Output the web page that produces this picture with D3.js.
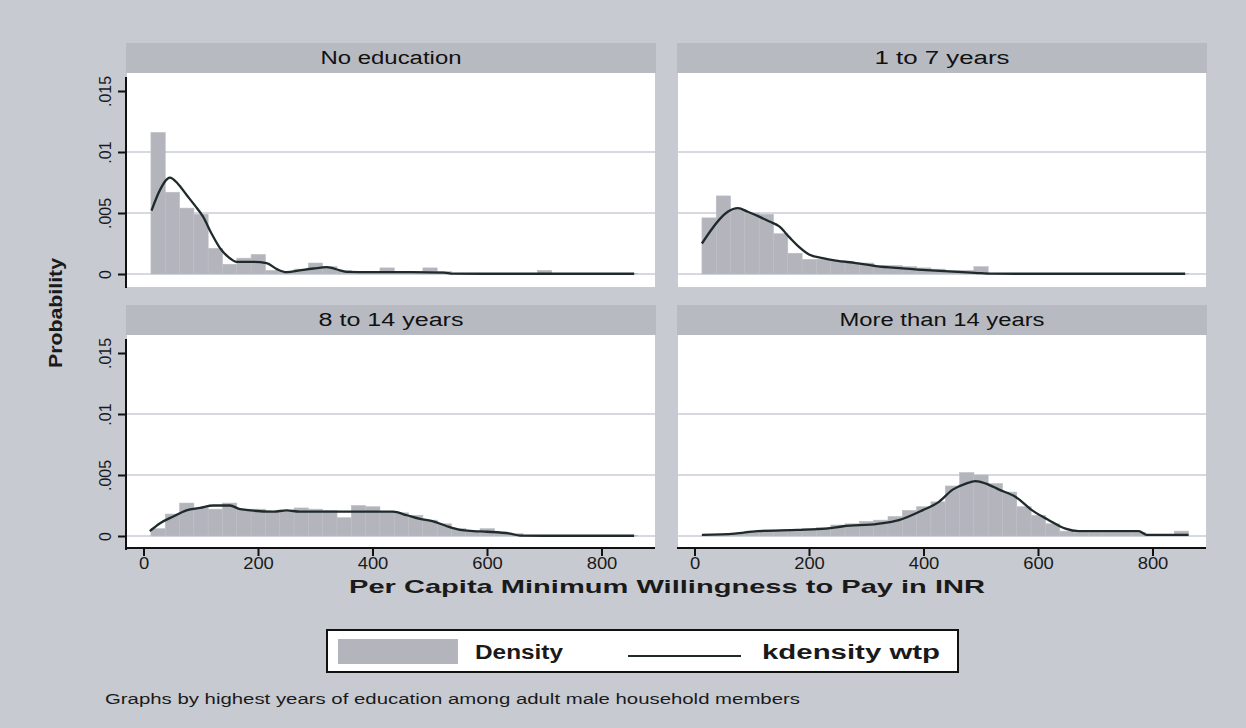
<!DOCTYPE html>
<html><head><meta charset="utf-8">
<script src="https://cdn.jsdelivr.net/npm/d3@7"></script>
<style>
body{margin:0;background:#c8cad2;}
svg{display:block;font-family:"Liberation Sans",Arial,sans-serif;}
</style>
</head><body>
<svg id="chart" width="1246" height="728"></svg>
<script>
// ---------------- data ----------------
const panelTitles = ["No education", "1 to 7 years", "8 to 14 years", "More than 14 years"];
const binStart = 13, binWidth = 25;

const densNoEdu = [.0116,.0067,.0054,.0049,.0021,.0008,.0013,.0016,.0003,.0002,
  .0004,.0009,.0006,.0003,.0002,.0002,.0005,.0002,.0002,.0005,
  .0002,.00005,.00005,.00005,.00005,.00005,.00005,.0003,.00005,.00005,
  .00005,.00005,.00005,.00005];
const dens1to7 = [.0046,.0064,.0053,.0050,.0049,.0033,.0017,.0012,.0012,.0011,
  .0009,.0009,.0007,.0007,.0006,.0005,.0004,.0003,.0003,.0006,
  .00005,.00005,.00005,.00005,.00005,.00005,.00005,.00005,.00005,.00005,
  .00005,.00005,.00005,.00005];
const dens8to14 = [.0006,.0018,.0027,.0023,.0022,.0027,.0022,.0022,.0020,.0020,
  .0023,.0022,.0021,.0015,.0025,.0024,.0020,.0019,.0017,.0013,
  .0010,.0006,.0004,.0006,.0003,.0002,.00005,.00005,.00005,.00005,
  .00005,.00005,.00005,.00005];
const densOver14 = [.0001,.0001,.0002,.0004,.0005,.0005,.0005,.0006,.0007,.0009,
  .0010,.0012,.0013,.0016,.0021,.0024,.0028,.0041,.0052,.0050,
  .0043,.0036,.0024,.0017,.0010,.0004,.0003,.0003,.0003,.0003,
  .0003,.0001,.0001,.0004];

const kdeXNoEdu = [14,30,46,60,75,90,104,119,134,148,163,192,215,233,250,273,297,320,343,355,400,450,525,540,600,700,857];
const kdeYNoEdu = [.0052,.0070,.0079,.0074,.0065,.0056,.0047,.0033,.0021,.0014,.0010,.0010,.0009,.0004,.00015,.0003,.00045,.00056,.0003,.00017,.00015,.00015,.00012,.00003,.00002,.00002,.00002];
const kdeX1to7 = [13,26,44,58,76,93,113,131,148,166,183,200,224,247,282,317,363,421,490,520,600,700,857];
const kdeY1to7 = [.0025,.0034,.0045,.0051,.0054,.0051,.0047,.0043,.0039,.0030,.0022,.0016,.0013,.0011,.0009,.00065,.00046,.00027,.0001,.00003,.00002,.00002,.00002];
const kdeX8to14 = [11,29,52,75,99,122,151,169,227,250,273,320,366,436,460,483,506,530,553,576,600,640,658,700,857];
const kdeY8to14 = [.0004,.00105,.0016,.0021,.0023,.0025,.0025,.0022,.0020,.0021,.0020,.0020,.0020,.0020,.0017,.0014,.0012,.0008,.0005,.0004,.00035,.0002,.00003,.00002,.00002];
const kdeXOver14 = [13,70,110,180,230,260,320,357,398,427,451,474,491,509,532,561,590,619,648,671,776,790,863];
const kdeYOver14 = [.0001,.0002,.0004,.0005,.0006,.0008,.0010,.0013,.0021,.0028,.0038,.0043,.0045,.0043,.0038,.0032,.0021,.0013,.0006,.0004,.0004,.0001,.0001];

const xTicks = [0, 200, 400, 600, 800];
const yTicks = [0, .005, .01, .015];
const yTickLabels = ["0", ".005", ".01", ".015"];
const gridValues = [0, .005, .01];

const xTitle = "Per Capita Minimum Willingness to Pay in INR";
const yTitle = "Probability";
const legendLabels = ["Density", "kdensity wtp"];
const footnote = "Graphs by highest years of education among adult male household members";

// ---------------- layout ----------------
const svg = d3.select("#chart");
const W = 1246, H = 728;
svg.append("rect").attr("width", W).attr("height", H).attr("fill", "#c8cad2");

const colLeft = [127, 678];
const plotTop = [73, 335];
const plotW = 528, plotH = 214, stripH = 30;

const panels = [
  {title: panelTitles[0], dens: densNoEdu, kx: kdeXNoEdu, ky: kdeYNoEdu, col: 0, row: 0},
  {title: panelTitles[1], dens: dens1to7, kx: kdeX1to7, ky: kdeY1to7, col: 1, row: 0},
  {title: panelTitles[2], dens: dens8to14, kx: kdeX8to14, ky: kdeY8to14, col: 0, row: 1},
  {title: panelTitles[3], dens: densOver14, kx: kdeXOver14, ky: kdeYOver14, col: 1, row: 1}
];
const stripWidths = [141, 135, 145, 205];

panels.forEach((p, pi) => {
  const left = colLeft[p.col], top = plotTop[p.row];
  const x = d3.scaleLinear().domain([0, 800]).range([left + 16.5, left + 474.5]);
  const y = d3.scaleLinear().domain([0, .015]).range([top + 201, top + 18]);
  const g = svg.append("g");

  // strip
  g.append("rect").attr("x", left - 1).attr("y", top - stripH).attr("width", plotW + 2).attr("height", stripH)
    .attr("fill", "#b8bac2");
  g.append("text").attr("x", left + plotW / 2).attr("y", top - 9)
    .attr("text-anchor", "middle").attr("font-size", 18).attr("fill", "#111")
    .attr("textLength", stripWidths[pi]).attr("lengthAdjust", "spacingAndGlyphs")
    .text(p.title);

  // plot region
  g.append("rect").attr("x", left).attr("y", top).attr("width", plotW).attr("height", plotH)
    .attr("fill", "#ffffff");

  // grid
  g.selectAll(".grid").data(gridValues).join("line")
    .attr("x1", left).attr("x2", left + plotW)
    .attr("y1", d => y(d)).attr("y2", d => y(d))
    .attr("stroke", "#c9ccd9").attr("stroke-width", 1.6);

  // bars
  g.selectAll(".bar").data(p.dens).join("rect")
    .attr("x", (d, i) => x(binStart + i * binWidth))
    .attr("width", (d, i) => x(binStart + (i + 1) * binWidth) - x(binStart + i * binWidth))
    .attr("y", d => y(d))
    .attr("height", d => y(0) - y(d))
    .attr("fill", "#b3b4bc")
    .attr("stroke", "#bdbec5").attr("stroke-width", 0.6);

  // kdensity line
  const pts = p.kx.map((v, i) => [v, p.ky[i]]);
  g.append("path").datum(pts)
    .attr("d", d3.line().x(d => x(d[0])).y(d => y(d[1])).curve(d3.curveMonotoneX))
    .attr("fill", "none").attr("stroke", "#1f2a2a").attr("stroke-width", 2.3);

  // y axis on left column
  if (p.col === 0) {
    const ax = g.append("g").attr("transform", `translate(${left - 1},0)`)
      .call(d3.axisLeft(y).tickValues(yTicks).tickSize(8).tickFormat((d, i) => yTickLabels[i]));
    ax.select(".domain").attr("d", `M0,${top + 4}V${top + plotH + 1}`).attr("stroke", "#111").attr("stroke-width", 2);
    ax.selectAll(".tick line").attr("stroke", "#111").attr("stroke-width", 2);
    ax.selectAll(".tick text").attr("transform", "rotate(-90)")
      .attr("x", 0).attr("y", -15).attr("dy", 0).attr("text-anchor", "middle")
      .attr("font-size", 16).attr("fill", "#1a1a1a").attr("font-family", "Liberation Sans, Arial, sans-serif");
  }
  // x axis on bottom row
  if (p.row === 1) {
    const ax = g.append("g").attr("transform", `translate(0,${top + plotH - 1})`)
      .call(d3.axisBottom(x).tickValues(xTicks).tickSize(8).tickFormat(d3.format("d")));
    ax.select(".domain").attr("d", `M${left - 1},0H${left + plotW}`).attr("stroke", "#111").attr("stroke-width", 2);
    ax.selectAll(".tick line").attr("stroke", "#111").attr("stroke-width", 2);
    ax.selectAll(".tick text").attr("y", 10).attr("font-size", 16).attr("fill", "#1a1a1a")
      .attr("font-family", "Liberation Sans, Arial, sans-serif")
      .each(function () {
        const n = this.getComputedTextLength();
        d3.select(this).attr("textLength", n * 1.15).attr("lengthAdjust", "spacingAndGlyphs");
      });
  }
});

// axis titles
svg.append("text").attr("x", 667).attr("y", 593).attr("text-anchor", "middle")
  .attr("font-size", 19).attr("font-weight", "bold").attr("fill", "#1a1a1a")
  .attr("textLength", 636).attr("lengthAdjust", "spacingAndGlyphs").text(xTitle);
svg.append("text").attr("transform", "translate(62,313) rotate(-90)").attr("text-anchor", "middle")
  .attr("font-size", 19).attr("font-weight", "bold").attr("fill", "#1a1a1a")
  .attr("textLength", 110).attr("lengthAdjust", "spacingAndGlyphs").text(yTitle);

// legend
const lg = svg.append("g");
lg.append("rect").attr("x", 327).attr("y", 630).attr("width", 631).attr("height", 42)
  .attr("fill", "#ffffff").attr("stroke", "#111").attr("stroke-width", 2);
lg.append("rect").attr("x", 338).attr("y", 639).attr("width", 120).attr("height", 25).attr("fill", "#b3b4bc");
lg.append("text").attr("x", 475).attr("y", 659).attr("font-size", 20).attr("font-weight", "bold").attr("fill", "#1a1a1a")
  .attr("textLength", 88).attr("lengthAdjust", "spacingAndGlyphs").text(legendLabels[0]);
lg.append("line").attr("x1", 628).attr("x2", 741).attr("y1", 656).attr("y2", 656)
  .attr("stroke", "#1f2a2a").attr("stroke-width", 2);
lg.append("text").attr("x", 762).attr("y", 659).attr("font-size", 20).attr("font-weight", "bold").attr("fill", "#1a1a1a")
  .attr("textLength", 178).attr("lengthAdjust", "spacingAndGlyphs").text(legendLabels[1]);

// footnote
svg.append("text").attr("x", 105).attr("y", 704).attr("font-size", 14).attr("fill", "#1a1a1a")
  .attr("textLength", 695).attr("lengthAdjust", "spacingAndGlyphs").text(footnote);
</script>
</body></html>
